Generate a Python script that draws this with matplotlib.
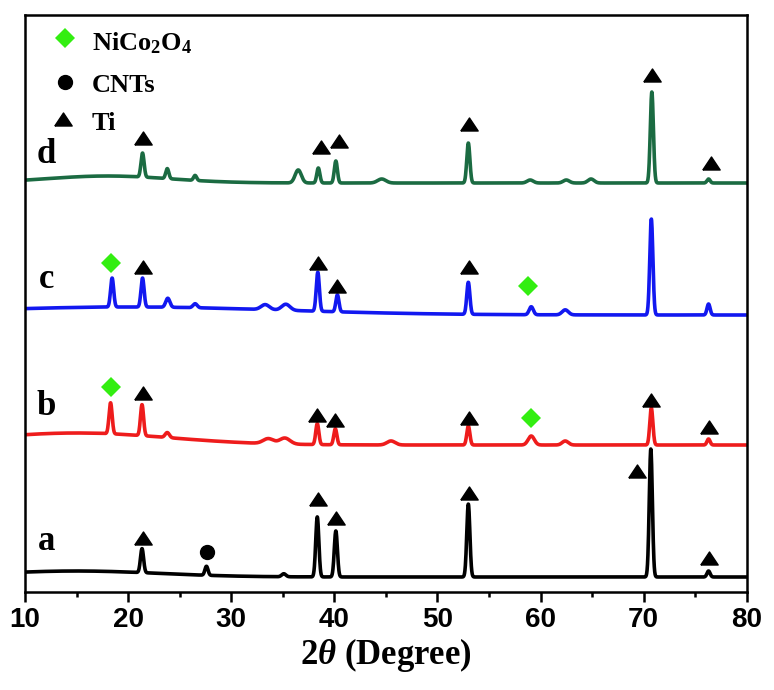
import numpy as np
import matplotlib
matplotlib.use("Agg")
import matplotlib.pyplot as plt

plt.rcParams['mathtext.fontset'] = 'custom'
plt.rcParams['mathtext.rm'] = 'Liberation Serif:bold'
plt.rcParams['mathtext.it'] = 'Liberation Serif:italic:bold'
plt.rcParams['mathtext.bf'] = 'Liberation Serif:bold'

# ---------------- data ----------------
two_theta_range = (10, 80)
x_ticks = [10, 20, 30, 40, 50, 60, 70, 80]

# each pattern: baseline offset, broad humps, and peaks (position, height, sigma)
a_offset = 15
a_peak_pos = [15.0, 21.35, 27.6, 35.1, 38.35, 40.15, 53.0, 70.7, 76.3]
a_peak_h = [6, 24, 9, 3, 60, 46, 73, 128, 6]
a_peak_w = [8.0, 0.15, 0.15, 0.2, 0.15, 0.15, 0.15, 0.15, 0.15]

b_offset = 147
b_peak_pos = [15.0, 18.3, 21.35, 23.8, 33.6, 35.2, 38.35, 40.1, 45.5, 53.0, 59.1, 62.4, 70.75, 76.3]
b_peak_h = [12, 31, 31, 5, 5, 6, 21, 16, 4, 19, 9, 4, 37, 6]
b_peak_w = [9.0, 0.15, 0.15, 0.2, 0.5, 0.5, 0.15, 0.15, 0.4, 0.15, 0.3, 0.3, 0.15, 0.15]

c_offset = 277
c_peak_pos = [20.0, 18.45, 21.4, 23.85, 26.5, 33.3, 35.3, 38.4, 40.3, 53.0, 59.1, 62.4, 70.75, 76.3]
c_peak_h = [8, 29, 29, 9, 4, 5, 6, 39, 17, 32, 8, 5, 96, 11]
c_peak_w = [15.0, 0.15, 0.15, 0.2, 0.2, 0.4, 0.4, 0.15, 0.15, 0.15, 0.2, 0.3, 0.15, 0.15]

d_offset = 409
d_peak_pos = [18.0, 21.4, 23.8, 26.5, 36.5, 38.45, 40.15, 44.6, 53.0, 59.0, 62.5, 64.9, 70.8, 76.3]
d_peak_h = [7, 24, 10, 5, 13, 15, 22, 4, 40, 3, 3, 4, 91, 4]
d_peak_w = [6.0, 0.15, 0.15, 0.15, 0.3, 0.15, 0.15, 0.4, 0.15, 0.3, 0.3, 0.3, 0.15, 0.15]

# phase markers (2theta, y)
tri_a = ([21.45, 38.4, 40.2, 53.1, 69.4, 76.3], [54, 93, 74, 99, 121, 34])
cnt_a = ([27.65], [40])
tri_b = ([21.45, 38.3, 40.1, 53.1, 70.75, 76.35], [199, 177, 172, 174, 192, 165])
dia_b = ([18.3, 59.1], [205, 174])
tri_c = ([21.4, 38.4, 40.25, 53.05], [325, 329, 306, 325])
dia_c = ([18.35, 58.8], [329, 306])
tri_d = ([21.45, 38.75, 40.5, 53.1, 70.8, 76.5], [454, 445, 451, 468, 517, 429])

curve_labels = ['a', 'b', 'c', 'd']
label_y = [42, 177, 304, 429]
legend_names = ['NiCo$_2$O$_4$', 'CNTs', 'Ti']

colors = {'a': '#000000', 'b': '#ee1c1c', 'c': '#1218f0', 'd': '#1b6b42'}
green = '#33ee11'

x = np.linspace(two_theta_range[0], two_theta_range[1], 3500)


def pattern(offset, pos, h, w):
    y = np.full_like(x, float(offset))
    for p, hh, ww in zip(pos, h, w):
        y += hh * np.exp(-0.5 * ((x - p) / ww) ** 2)
    return y


fig = plt.figure(figsize=(7.74, 6.90), dpi=100)
ax = fig.add_axes([25 / 774, 1 - 592 / 690, (746.7 - 25) / 774, (592 - 15) / 690])

ax.plot(x, pattern(a_offset, a_peak_pos, a_peak_h, a_peak_w), color=colors['a'], lw=2.6)
ax.plot(x, pattern(b_offset, b_peak_pos, b_peak_h, b_peak_w), color=colors['b'], lw=2.6)
ax.plot(x, pattern(c_offset, c_peak_pos, c_peak_h, c_peak_w), color=colors['c'], lw=2.6)
ax.plot(x, pattern(d_offset, d_peak_pos, d_peak_h, d_peak_w), color=colors['d'], lw=2.6)

tri_marker = [(-1, -0.75), (1, -0.75), (0, 0.75), (-1, -0.75)]
tri_kw = dict(ls='none', marker=tri_marker, ms=12.5, color='black')
dia_kw = dict(ls='none', marker='D', ms=10, color=green, mew=0)
for tx, ty in (tri_a, tri_b, tri_c, tri_d):
    ax.plot(tx, ty, **tri_kw)
for dx, dy in (dia_b, dia_c):
    ax.plot(dx, dy, **dia_kw)
ax.plot(cnt_a[0], cnt_a[1], ls='none', marker='o', ms=10, color='black')

# legend (drawn in data space)
ax.plot([13.9], [554], **dia_kw)
ax.plot([13.9], [510], ls='none', marker='o', ms=10, color='black')
ax.plot([13.7], [473], **tri_kw)
for name, yy in zip(legend_names, [542, 500, 462]):
    ax.text(16.5, yy, name, fontsize=19, fontweight='bold', family='Liberation Serif',
            ha='left', va='baseline')

for lab, yy in zip(curve_labels, label_y):
    ax.text(12.05, yy, lab, fontsize=25, fontweight='bold', family='Liberation Serif',
            ha='center', va='baseline')

ax.set_xlim(*two_theta_range)
ax.set_ylim(0, 577)
ax.set_yticks([])
ax.set_xticks(x_ticks)
ax.set_xticks(np.arange(15, 80, 10), minor=True)
ax.tick_params(axis='x', which='major', direction='out', length=7, width=1.8, pad=4)
ax.tick_params(axis='x', which='minor', direction='out', length=3.6, width=1.8)
for lbl in ax.get_xticklabels():
    lbl.set_fontfamily('Liberation Sans')
    lbl.set_fontweight('bold')
    lbl.set_fontsize(20)
for s in ax.spines.values():
    s.set_linewidth(1.8)

ax.set_xlabel(r'2$\theta$ (Degree)', fontsize=25, fontweight='bold', family='Liberation Serif',
              labelpad=2)

fig.savefig('out.png', dpi=100)
